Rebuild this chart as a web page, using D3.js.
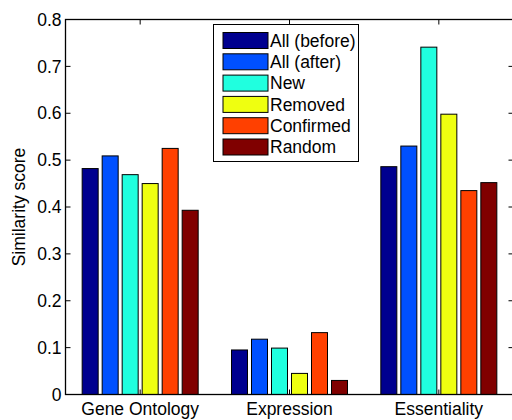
<!DOCTYPE html>
<html><head><meta charset="utf-8">
<script src="https://cdn.jsdelivr.net/npm/d3@7"></script>
<style>
html,body{margin:0;padding:0;background:#fff;}
svg text{font-family:"Liberation Sans",Arial,Helvetica,sans-serif;fill:#000;}
</style></head>
<body><svg id="chart" width="512" height="420"></svg>
<script>
const categories = ["Gene Ontology", "Expression", "Essentiality"];
const seriesNames = ["All (before)", "All (after)", "New", "Removed", "Confirmed", "Random"];
const seriesColors = ["#00008F", "#0050FF", "#20FFDF", "#EFFF10", "#FF4000", "#800000"];
const allBefore = [0.482, 0.095, 0.486];
const allAfter  = [0.509, 0.118, 0.530];
const newVals   = [0.469, 0.099, 0.741];
const removed   = [0.450, 0.045, 0.598];
const confirmed = [0.525, 0.132, 0.435];
const randomV   = [0.393, 0.030, 0.452];
const yTicks = [0, 0.1, 0.2, 0.3, 0.4, 0.5, 0.6, 0.7, 0.8];

const series = [allBefore, allAfter, newVals, removed, confirmed, randomV];

const svg = d3.select("#chart");
const L = 65.5, R = 513.5, T = 19.5, B = 394.5;
const fs = 17.5;

const x = d3.scaleLinear().domain([0.5, 3.5]).range([L, R]);
const y = d3.scaleLinear().domain([0, 0.8]).range([B, T]);
const inner = d3.scaleBand().domain(d3.range(6)).range([-60, 60]).paddingInner(0.2).paddingOuter(0.1);

// bars
categories.forEach((c, ci) => {
  series.forEach((s, si) => {
    svg.append("rect")
      .attr("x", x(ci + 1) + inner(si))
      .attr("y", y(s[ci]))
      .attr("width", inner.bandwidth())
      .attr("height", y(0) - y(s[ci]))
      .attr("fill", seriesColors[si])
      .attr("stroke", "#000")
      .attr("stroke-width", 1);
  });
});

// frame
svg.append("rect").attr("x", L).attr("y", T).attr("width", R - L).attr("height", B - T)
  .attr("fill", "none").attr("stroke", "#000").attr("stroke-width", 1.3);

// y ticks
const tl = 5;
yTicks.forEach(v => {
  svg.append("line").attr("x1", L).attr("x2", L + tl).attr("y1", y(v)).attr("y2", y(v)).attr("stroke", "#000");
  svg.append("line").attr("x1", R).attr("x2", R - tl).attr("y1", y(v)).attr("y2", y(v)).attr("stroke", "#000");
  svg.append("text").attr("x", L - 4).attr("y", y(v)).attr("dy", "0.35em")
    .attr("text-anchor", "end").attr("font-size", fs).text(d3.format("")(v));
});

// x ticks
categories.forEach((c, ci) => {
  const xc = x(ci + 1);
  svg.append("line").attr("x1", xc).attr("x2", xc).attr("y1", B).attr("y2", B - tl).attr("stroke", "#000");
  svg.append("line").attr("x1", xc).attr("x2", xc).attr("y1", T).attr("y2", T + tl).attr("stroke", "#000");
  svg.append("text").attr("x", xc).attr("y", 415).attr("text-anchor", "middle").attr("font-size", fs).text(c);
});

// y label
svg.append("text").attr("transform", `translate(25,${(T + B) / 2}) rotate(-90)`)
  .attr("text-anchor", "middle").attr("font-size", fs).text("Similarity score");

// legend
const lg = svg.append("g");
lg.append("rect").attr("x", 213.5).attr("y", 24.5).attr("width", 145).attr("height", 137)
  .attr("fill", "#fff").attr("stroke", "#000").attr("stroke-width", 1);
seriesNames.forEach((n, i) => {
  const yy = 32.5 + i * 21.3;
  lg.append("rect").attr("x", 223).attr("y", yy).attr("width", 45).attr("height", 16)
    .attr("fill", seriesColors[i]).attr("stroke", "#000").attr("stroke-width", 1);
  lg.append("text").attr("x", 270).attr("y", yy + 8).attr("dy", "0.36em").attr("font-size", fs).text(n);
});
</script></body></html>
